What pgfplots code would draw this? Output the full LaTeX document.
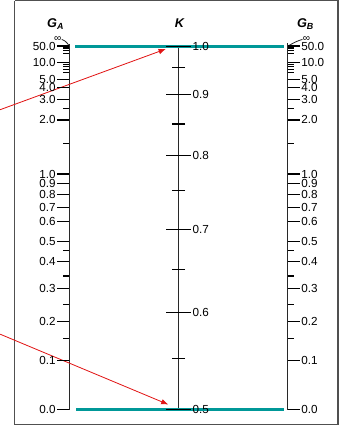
\documentclass[border=0pt]{standalone}
\usepackage{fontspec}
\setmainfont{Liberation Sans}
\usepackage{pgfplots}
\pgfplotsset{compat=1.18}
\usepackage{pgfplotstable}
\usetikzlibrary{arrows.meta}
\definecolor{tealc}{RGB}{0,152,152}
\definecolor{redc}{RGB}{225,20,20}
\definecolor{axc}{RGB}{40,40,40}
\definecolor{framec}{RGB}{80,80,80}
\tikzset{tickfont/.style={font=\fontsize{11.5}{11.5}\selectfont}}

% G scale (both G_A and G_B): tick position (px from top), label
\pgfplotstableread{
y     xa   xb   lab
46.5  62   288  50.0
62.5  62   288  10.0
79.5  62   288  5.0
87    62   288  4.0
99    62   288  3.0
119   62   288  2.0
172   62   288  1.0
181   62   288  0.9
192   62   288  0.8
205   62   288  0.7
219   62   288  0.6
238   62   288  0.5
258   62   288  0.4
284   62   288  0.3
317   62   288  0.2
355   62   288  0.1
403   62   288  0.0
}\gmajor

\pgfplotstableread{
y     xa   xb
48.5  65   285
50.5  65   285
53.5  65   285
65    65   285
67    65   285
69.5  65   285
72.5  65   285
108   65   285
142   65   285
247   65   285
272   65   285
300   65   285
333   65   285
}\gminor

% K scale
\pgfplotstableread{
y    x    lab
47   175  1.0
94   175  0.9
154  175  0.8
226  175  0.7
308  175  0.6
403  175  0.5
}\kmajor

\pgfplotstableread{
y    x
68   175
123  175
188  175
266  175
353  175
}\kminor

\begin{document}
\begin{tikzpicture}
\begin{axis}[
  width=339bp, height=425bp, scale only axis,
  xmin=0, xmax=339, ymin=0, ymax=425, y dir=reverse,
  hide axis,
]
% frame
\addplot[draw=framec, line width=1.2bp, line join=miter] coordinates {(14.5,2) (331.5,2) (331.5,417.5) (14.5,417.5) (14.5,2)};

% scale lines
\addplot[draw=axc, line width=1.4bp] coordinates {(68,45) (68,403)};
\addplot[draw=axc, line width=1.4bp] coordinates {(175,47) (175,403)};
\addplot[draw=axc, line width=1.4bp] coordinates {(282,44) (282,403)};

% infinity arcs
\addplot[draw=axc, line width=0.8bp, smooth] coordinates {(60.5,40) (63.5,41.5) (66,43.8) (67.8,46.5)};
\addplot[draw=axc, line width=0.8bp, smooth] coordinates {(296.5,40) (291,42) (286,44.5) (282.3,46.5)};

% G_A ticks + labels
\addplot[black, only marks, mark=-, mark size=6, mark options={solid, line width=1.1bp, draw=black},
  point meta=explicit symbolic, nodes near coords,
  every node near coord/.append style={anchor=east, xshift=-6.5bp, inner sep=0.5bp, tickfont, black}]
  table[x=xa, y=y, meta=lab] {\gmajor};
\addplot[black, only marks, mark=-, mark size=3, mark options={solid, line width=1.1bp, draw=black}]
  table[x=xa, y=y] {\gminor};

% G_B ticks + labels
\addplot[black, only marks, mark=-, mark size=6, mark options={solid, line width=1.1bp, draw=black},
  point meta=explicit symbolic, nodes near coords,
  every node near coord/.append style={anchor=west, xshift=6.5bp, inner sep=0.5bp, tickfont, black}]
  table[x=xb, y=y, meta=lab] {\gmajor};
\addplot[black, only marks, mark=-, mark size=3, mark options={solid, line width=1.1bp, draw=black}]
  table[x=xb, y=y] {\gminor};

% K ticks + labels
\addplot[black, only marks, mark=-, mark size=12, mark options={solid, line width=1.1bp, draw=black},
  point meta=explicit symbolic, nodes near coords,
  every node near coord/.append style={anchor=west, xshift=12.8bp, inner sep=0.5bp, tickfont, black}]
  table[x=x, y=y, meta=lab] {\kmajor};
\addplot[black, only marks, mark=-, mark size=6.5, mark options={solid, line width=1.1bp, draw=black}]
  table[x=x, y=y] {\kminor};

% red arrows
\addplot[draw=redc, line width=0.8bp, -{Latex[length=7bp,width=5.5bp]}] coordinates {(0,109) (162.5,49.5)};
\addplot[draw=redc, line width=0.8bp, -{Latex[length=7bp,width=5.5bp]}] coordinates {(0,329) (165,398)};

% teal lines
\addplot[draw=tealc, line width=3bp] coordinates {(74,47) (278,47)};
\addplot[draw=tealc, line width=3bp] coordinates {(75,403) (278,403)};

% titles
\node[font=\fontsize{12.5}{13}\selectfont\bfseries\itshape] at (axis cs:54.5,25) {G\textsubscript{A}};
\node[font=\fontsize{12.5}{13}\selectfont\bfseries\itshape] at (axis cs:176,24) {K};
\node[font=\fontsize{12.5}{13}\selectfont\bfseries\itshape] at (axis cs:299.5,25) {G\textsubscript{B}};
% infinity symbols
\node[font=\fontsize{10}{10}\selectfont, inner sep=0pt] at (axis cs:56.5,40) {∞};
\node[font=\fontsize{10}{10}\selectfont, inner sep=0pt] at (axis cs:300.5,40) {∞};
\end{axis}
\end{tikzpicture}
\end{document}
